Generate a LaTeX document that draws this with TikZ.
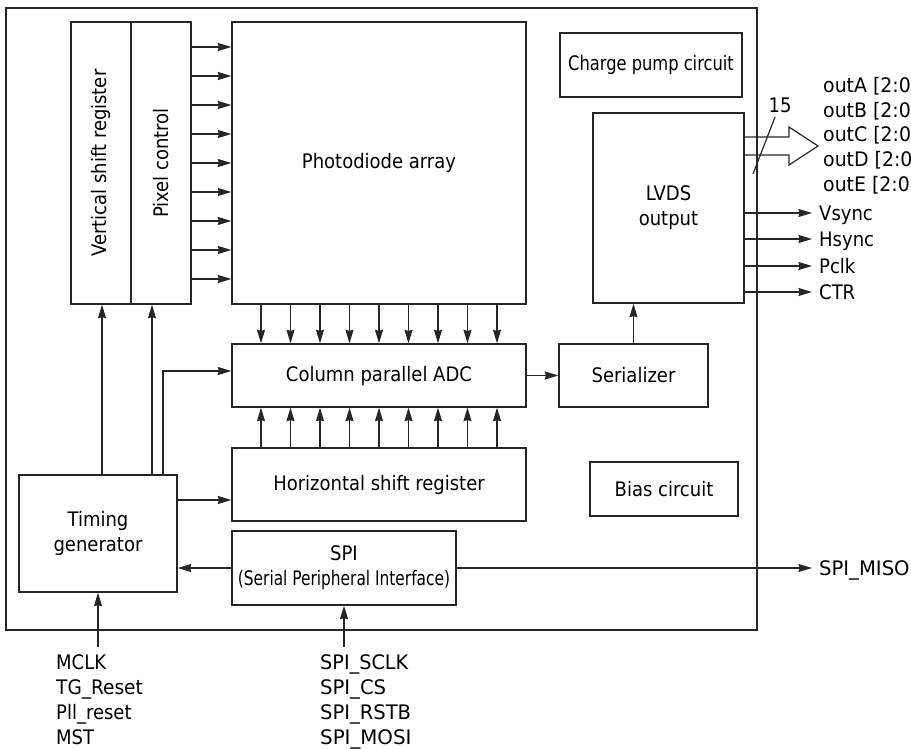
\documentclass[tikz,border=0pt]{standalone}
\usepackage{fontspec}
\setmainfont{DejaVu Sans Condensed}
\usetikzlibrary{arrows.meta}
\newcommand{\sx}[2]{\scalebox{#1}[1]{#2}}
\begin{document}
\begin{tikzpicture}[x=1pt,y=-1pt,
  every node/.style={font=\fontsize{20}{25}\selectfont, text=black},
  box/.style={draw=black!85, line width=1.3pt, inner sep=0pt, align=center},
  arr/.style={draw=black!85, line width=1.2pt, -{Stealth[length=13.5pt,width=8pt,inset=1pt]}},
  ln/.style={draw=black!85, line width=1.2pt},
  lab/.style={inner sep=0pt, anchor=base west}]
\useasboundingbox (0,0) rectangle (911,749);
% outer frame
\node[box, minimum width=751, minimum height=622] (chip) at (381.5,319) {};
% blocks
\node[box, minimum width=60, minimum height=282] (vsr) at (101,163) {};
\node[rotate=90] at (vsr.center) {Vertical shift register};
\node[box, minimum width=60, minimum height=282] (pc) at (161,163) {};
\node[rotate=90] at (pc.center) {Pixel control};
\node[box, minimum width=294, minimum height=282] (pd) at (379,163) {Photodiode array};
\node[box, minimum width=294, minimum height=63] (adc) at (379,375.5) {Column parallel ADC};
\node[box, minimum width=294, minimum height=73] (hsr) at (379,484.5) {Horizontal shift register};
\node[box, minimum width=158, minimum height=117] (tg) at (98,533.5) {Timing\\generator};
\node[box, minimum width=224, minimum height=74] (spi) at (344,568) {SPI\\\sx{0.856}{(Serial Peripheral Interface)}};
\node[box, minimum width=149, minimum height=63] (ser) at (633.5,375.5) {Serializer};
\node[box, minimum width=148, minimum height=54] (bias) at (664,489) {Bias circuit};
\node[box, minimum width=151, minimum height=190] (lvds) at (668.5,208) {LVDS\\output};
\node[box, minimum width=182, minimum height=64] (cp) at (651,65) {\sx{0.905}{Charge pump circuit}};
% pixel control -> photodiode array
\foreach \y in {47,76,105,134,163,192,221,250,279}
  \draw[arr] (pc.east |- 0,\y) -- (pd.west |- 0,\y);
% photodiode -> ADC, HSR -> ADC
\foreach \x in {261,290.5,320,349.5,379,408.5,438,467.5,497} {
  \draw[arr] (\x,0 |- pd.south) -- (\x,0 |- adc.north);
  \draw[arr] (\x,0 |- hsr.north) -- (\x,0 |- adc.south);
}
% timing generator connections
\draw[arr] (102,0 |- tg.north) -- (102,0 |- vsr.south);
\draw[arr] (152,0 |- tg.north) -- (152,0 |- pc.south);
\draw[arr] (163,0 |- tg.north) -- (163,371) -- (adc.west |- 0,371);
\draw[arr] (tg.east |- 0,500) -- (hsr.west |- 0,500);
\draw[arr] (spi.west) -- (tg.east |- spi.west);
\draw[arr] (adc.east) -- (ser.west);
\draw[arr] (ser.north) -- (ser.north |- lvds.south);
% SPI MISO
\node[lab] (miso) at (819,575.3) {\sx{1.09}{SPI\_MISO}};
\draw[arr, shorten >=7pt] (spi.east) -- (miso.west |- spi.east);
% LVDS outputs
\node[lab] (vs) at (819,220.3) {Vsync};
\node[lab] (hs) at (819,246.3) {Hsync};
\node[lab] (pk) at (819,273.3) {Pclk};
\node[lab] (ct) at (819,299.3) {CTR};
\draw[arr, shorten >=7pt] (lvds.east |- 0,213) -- (vs.west |- 0,213);
\draw[arr, shorten >=7pt] (lvds.east |- 0,239) -- (hs.west |- 0,239);
\draw[arr, shorten >=7pt] (lvds.east |- 0,266) -- (pk.west |- 0,266);
\draw[arr, shorten >=7pt] (lvds.east |- 0,292) -- (ct.west |- 0,292);
% bus arrow
\draw[ln, line join=miter] (lvds.east |- 0,137) -- (789,137) -- (789,127) -- (818,146) -- (789,165) -- (789,155) -- (lvds.east |- 0,155);
\coordinate (sa) at (753,174);
\coordinate (sb) at (775,117);
\draw[ln] (sa) -- (sb);
\node[inner sep=0pt] (n15) at (780,105) {15};
\node[lab] (oa) at (823,92.3) {\sx{1.05}{outA [2:0]}};
\node[lab] (ob) at (823,117.3) {\sx{1.05}{outB [2:0]}};
\node[lab] (oc) at (823,141.8) {\sx{1.05}{outC [2:0]}};
\node[lab] (od) at (823,166.3) {\sx{1.05}{outD [2:0]}};
\node[lab] (oe) at (823,191.3) {\sx{1.05}{outE [2:0]}};
% inputs
\node[lab] (i1) at (56,669.3) {MCLK};
\node[lab] (i2) at (56,694.3) {\sx{1.03}{TG\_Reset}};
\node[lab] (i3) at (56,719.3) {Pll\_reset};
\node[lab] (i4) at (56,744.3) {MST};
\coordinate (tgin) at (98,647);
\draw[arr] (tgin) -- (tg.south);
\node[lab] (s1) at (320,669.3) {\sx{1.07}{SPI\_SCLK}};
\node[lab] (s2) at (320,694.3) {\sx{1.09}{SPI\_CS}};
\node[lab] (s3) at (320,719.3) {\sx{1.085}{SPI\_RSTB}};
\node[lab] (s4) at (320,744.3) {\sx{1.1}{SPI\_MOSI}};
\coordinate (spiin) at (344,647);
\draw[arr] (spiin) -- (spi.south);
\end{tikzpicture}
\end{document}
